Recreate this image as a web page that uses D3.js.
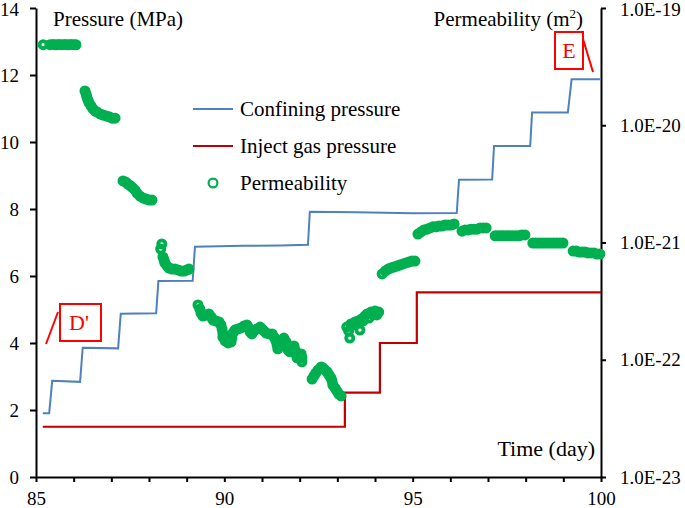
<!DOCTYPE html>
<html><head><meta charset="utf-8">
<script src="https://cdn.jsdelivr.net/npm/d3@7"></script>
<style>body{margin:0;background:#fff} svg{display:block} text{font-family:"Liberation Serif","Times New Roman",serif;fill:#000}</style>
</head><body><svg id="c" width="685" height="508"></svg>
<script>
// ---------------- data ----------------
const pressureTicks = [0, 2, 4, 6, 8, 10, 12, 14];
const dayTicks = [85, 86, 87, 88, 89, 90, 91, 92, 93, 94, 95, 96, 97, 98, 99, 100];
const dayLabels = [85, 90, 95, 100];
const permTicks = [1e-23, 1e-22, 1e-21, 1e-20, 1e-19];

// Confining pressure (MPa) vs time (day)
const confiningDays = [85.18, 85.35, 85.43, 86.17, 86.24, 87.18, 87.25, 88.19, 88.25, 89.16, 89.22, 90.5, 91.5, 92.22, 92.27, 93.5, 95.0, 96.17, 96.23, 97.11, 97.16, 98.12, 98.17, 99.12, 99.22, 100.0];
const confiningMPa  = [1.90, 1.90, 2.87, 2.84, 3.86, 3.84, 4.87, 4.89, 5.85, 5.86, 6.87, 6.90, 6.91, 6.93, 7.92, 7.90, 7.87, 7.88, 8.87, 8.88, 9.88, 9.88, 10.88, 10.88, 11.87, 11.87];

// Inject gas pressure (MPa), stepwise
const gasDays = [85.18, 93.2, 94.13, 95.11, 100.0];
const gasMPa  = [1.50, 2.52, 4.00, 5.51, 5.51];

// Permeability [day, value in 1e-21 m^2]
const permeability = [
  [85.19,48.7],
  [85.37,48.7],[85.45,48.9],[85.53,48.6],[85.61,48.8],[85.69,48.7],[85.77,48.9],[85.85,48.6],[85.93,48.8],[86.01,48.7],[86.06,48.6],
  [86.30,19.6],[86.33,18.5],[86.35,17.4],[86.38,16.4],[86.41,15.5],[86.46,14.6],[86.51,13.8],[86.57,13.2],[86.62,13.0],[86.70,12.5],[86.78,12.2],[86.86,12.0],[86.94,11.8],[87.02,11.5],[87.10,11.5],
  [87.31,3.35],[87.38,3.28],[87.44,3.15],[87.50,3.06],[87.56,2.94],[87.63,2.80],[87.68,2.64],[87.76,2.49],[87.84,2.40],[87.92,2.35],[88.00,2.30],[88.08,2.30],
  [88.34,0.971],[88.31,0.880],
  [88.37,0.752],[88.40,0.709],[88.42,0.669],[88.48,0.630],[88.53,0.606],[88.61,0.594],[88.69,0.594],[88.77,0.583],[88.85,0.571],[88.93,0.571],[89.01,0.583],[89.06,0.594],
  [89.30,0.293],[89.35,0.271],[89.38,0.250],[89.43,0.236],[89.51,0.241],[89.59,0.246],[89.65,0.232],[89.70,0.218],[89.78,0.214],[89.86,0.210],[89.91,0.198],[89.94,0.183],[89.96,0.169],[89.96,0.156],[90.02,0.145],[90.10,0.139],[90.18,0.142],[90.20,0.153],[90.23,0.169],[90.28,0.179],[90.36,0.183],[90.44,0.187],[90.52,0.194],[90.60,0.198],[90.65,0.187],[90.68,0.173],[90.73,0.166],[90.79,0.176],[90.87,0.183],[90.95,0.190],[91.00,0.183],[91.05,0.176],[91.11,0.169],[91.19,0.166],[91.27,0.166],[91.32,0.156],[91.37,0.145],[91.40,0.134],[91.42,0.124],[91.48,0.131],[91.53,0.145],[91.58,0.153],[91.64,0.142],[91.66,0.131],[91.69,0.121],[91.74,0.117],[91.80,0.126],[91.85,0.131],[91.88,0.121],[91.90,0.112],[91.93,0.104],[91.98,0.108],[92.04,0.112],[92.06,0.104],[92.06,0.096],
  [92.33,0.0685],[92.38,0.0727],[92.43,0.0771],[92.49,0.0818],[92.57,0.0868],[92.62,0.0851],[92.67,0.0818],[92.73,0.0786],[92.78,0.0741],[92.83,0.0699],[92.86,0.0659],[92.88,0.0609],[92.94,0.0574],[92.99,0.0541],[93.04,0.0510],[93.10,0.0491],
  [93.25,0.190],[93.30,0.176],[93.33,0.153],[93.36,0.202],[93.42,0.198],[93.47,0.210],[93.60,0.179],[93.55,0.214],[93.63,0.221],[93.68,0.214],[93.73,0.236],[93.79,0.246],[93.84,0.227],[93.89,0.255],[93.95,0.241],[94.00,0.260],[94.05,0.241],[94.10,0.255],
  [94.19,0.539],[94.27,0.571],[94.35,0.594],[94.42,0.606],[94.50,0.618],[94.58,0.630],[94.66,0.643],[94.74,0.656],[94.82,0.669],[94.90,0.682],[94.98,0.695],[95.06,0.695],
  [95.14,1.18],[95.22,1.23],[95.30,1.28],[95.38,1.30],[95.46,1.33],[95.54,1.36],[95.62,1.36],[95.70,1.38],[95.78,1.38],[95.86,1.41],[95.94,1.41],[96.02,1.41],[96.10,1.44],
  [96.31,1.25],[96.39,1.28],[96.47,1.28],[96.55,1.30],[96.63,1.30],[96.71,1.30],[96.79,1.33],[96.87,1.33],[96.95,1.33],
  [97.19,1.14],[97.27,1.14],[97.35,1.14],[97.42,1.14],[97.50,1.14],[97.58,1.14],[97.66,1.14],[97.74,1.14],[97.82,1.14],[97.90,1.16],[97.98,1.16],
  [98.19,0.99],[98.27,0.99],[98.35,0.99],[98.43,0.99],[98.51,0.99],[98.59,0.99],[98.67,0.99],[98.75,0.99],[98.83,0.99],[98.91,0.99],[98.99,0.99],
  [99.26,0.846],[99.34,0.846],[99.42,0.830],[99.50,0.830],[99.58,0.830],[99.65,0.814],[99.73,0.814],[99.81,0.814],[99.89,0.798],[99.97,0.798]
];

// ---------------- drawing ----------------
const svg = d3.select("#c");
const blue = "#4f81bd", dred = "#c00000", green = "#00b050", red = "#ff0000";
const x = d3.scaleLinear([85, 100], [36, 601]);
const y = d3.scaleLinear([0, 14], [477, 8]);
const y2 = d3.scaleLog([1e-23, 1e-19], [477, 8]);

function styleAxis(g, size) {
  g.select(".domain").attr("stroke", "#000").attr("stroke-width", 2);
  g.selectAll(".tick line").attr("stroke", "#000").attr("stroke-width", 2);
  g.selectAll(".tick text").attr("font-size", size).attr("font-family", "Liberation Serif").attr("fill", "#000");
}

svg.append("g").attr("transform", "translate(36,0)")
  .call(d3.axisLeft(y).tickValues(pressureTicks).tickSize(6).tickSizeOuter(0).tickPadding(11))
  .call(g => styleAxis(g, 19))
  .call(g => g.selectAll(".tick text").attr("dy", d => d === 14 ? "0.40em" : "0.32em"));

svg.append("g").attr("transform", "translate(0,477)")
  .call(d3.axisBottom(x).tickValues(dayTicks).tickSize(5).tickSizeOuter(0).tickPadding(10)
    .tickFormat(d => dayLabels.includes(d) ? d : ""))
  .call(g => styleAxis(g, 19));

svg.append("g").attr("transform", "translate(601,0)")
  .call(d3.axisRight(y2).tickValues(permTicks).tickSize(5).tickSizeOuter(0).tickPadding(14)
    .tickFormat(d => "1.0E" + Math.round(Math.log10(d))))
  .call(g => styleAxis(g, 19))
  .call(g => g.selectAll(".tick text").attr("dy", d => d === 1e-19 ? "0.40em" : "0.32em"));

// lines
const confData = confiningDays.map((d, i) => [d, confiningMPa[i]]);
svg.append("path").datum(confData)
  .attr("d", d3.line().x(d => x(d[0])).y(d => y(d[1])))
  .attr("fill", "none").attr("stroke", blue).attr("stroke-width", 2);

const gasData = gasDays.map((d, i) => [d, gasMPa[i]]);
svg.append("path").datum(gasData)
  .attr("d", d3.line().curve(d3.curveStepAfter).x(d => x(d[0])).y(d => y(d[1])))
  .attr("fill", "none").attr("stroke", dred).attr("stroke-width", 2.2);

// permeability markers
svg.append("g").selectAll("circle").data(permeability).join("circle")
  .attr("cx", d => x(d[0])).attr("cy", d => y2(d[1] * 1e-21)).attr("r", 3.6)
  .attr("fill", "none").attr("stroke", green).attr("stroke-width", 3.8);

// axis titles
svg.append("text").attr("x", 53).attr("y", 26).attr("font-size", 21).text("Pressure (MPa)");
const pt = svg.append("text").attr("x", 583).attr("y", 26).attr("font-size", 21).attr("text-anchor", "end");
pt.append("tspan").text("Permeability (m");
pt.append("tspan").attr("font-size", 13).attr("dy", -8).text("2");
pt.append("tspan").attr("dy", 8).text(")");
svg.append("text").attr("x", 595).attr("y", 456).attr("font-size", 22).attr("text-anchor", "end").text("Time (day)");

// legend
const leg = svg.append("g");
leg.append("line").attr("x1", 193).attr("x2", 233).attr("y1", 109).attr("y2", 109).attr("stroke", blue).attr("stroke-width", 2);
leg.append("text").attr("x", 240).attr("y", 109).attr("dy", "0.33em").attr("font-size", 21).text("Confining pressure");
leg.append("line").attr("x1", 193).attr("x2", 233).attr("y1", 146).attr("y2", 146).attr("stroke", dred).attr("stroke-width", 2.2);
leg.append("text").attr("x", 240).attr("y", 146).attr("dy", "0.33em").attr("font-size", 21).text("Inject gas pressure");
leg.append("circle").attr("cx", 213).attr("cy", 183).attr("r", 4.4).attr("fill", "none").attr("stroke", green).attr("stroke-width", 2.2);
leg.append("text").attr("x", 240).attr("y", 183).attr("dy", "0.33em").attr("font-size", 21).text("Permeability");

// annotations
svg.append("rect").attr("x", 60).attr("y", 304).attr("width", 41).attr("height", 37).attr("fill", "none").attr("stroke", red).attr("stroke-width", 2);
svg.append("text").attr("x", 79).attr("y", 330).attr("text-anchor", "middle").attr("font-size", 22).style("fill", red).text("D'");
svg.append("line").attr("x1", 46).attr("y1", 344).attr("x2", 58).attr("y2", 312).attr("stroke", red).attr("stroke-width", 2);

svg.append("rect").attr("x", 555).attr("y", 32).attr("width", 28).attr("height", 37).attr("fill", "none").attr("stroke", red).attr("stroke-width", 2);
svg.append("text").attr("x", 569).attr("y", 58).attr("text-anchor", "middle").attr("font-size", 22).style("fill", red).text("E");
svg.append("line").attr("x1", 583).attr("y1", 39).attr("x2", 593).attr("y2", 72).attr("stroke", red).attr("stroke-width", 2);
</script></body></html>
